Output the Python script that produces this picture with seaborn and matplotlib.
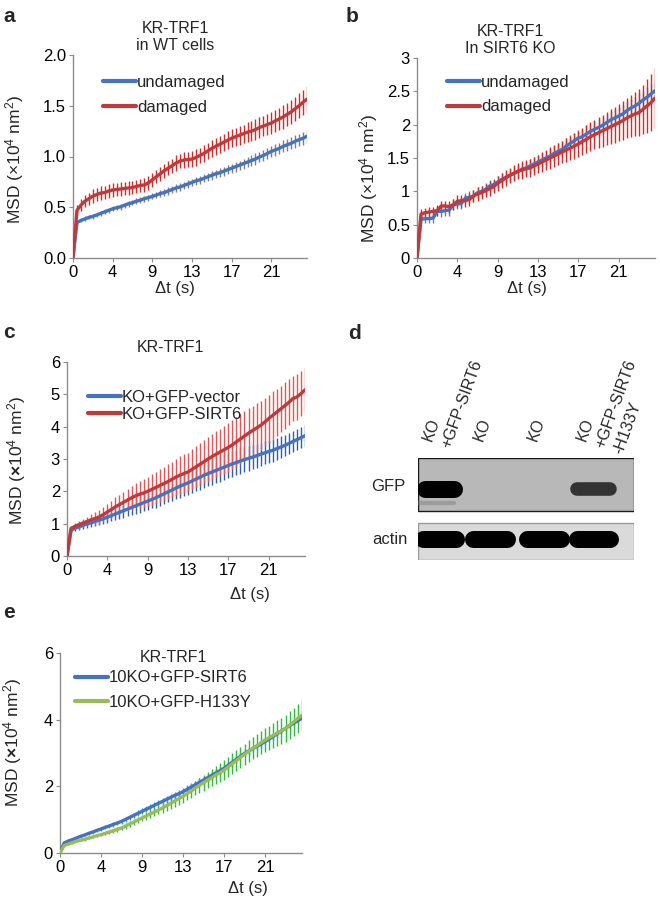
import numpy as np
import pandas as pd
import matplotlib
matplotlib.use("Agg")
import matplotlib.pyplot as plt
from matplotlib.patches import Rectangle
from matplotlib.lines import Line2D
import seaborn as sns

# ---------------- data ----------------
X_TICK_LABELS = ["0", "4", "9", "13", "17", "21"]

# panel a : KR-TRF1 in WT cells
a_undamaged = [0, 0.35, 0.37, 0.385, 0.40, 0.41, 0.425, 0.44, 0.455, 0.47,
               0.485, 0.495, 0.505, 0.52, 0.535, 0.545, 0.56, 0.57, 0.585, 0.595,
               0.607, 0.62, 0.635, 0.645, 0.66, 0.675, 0.69, 0.70, 0.715, 0.73,
               0.745, 0.76, 0.77, 0.785, 0.80, 0.815, 0.83, 0.84, 0.855, 0.87,
               0.885, 0.90, 0.915, 0.93, 0.945, 0.96, 0.975, 0.995, 1.01, 1.03,
               1.05, 1.065, 1.08, 1.10, 1.115, 1.13, 1.15, 1.165, 1.18, 1.20]
a_undamaged_err = [0, 0.02, 0.02, 0.025, 0.02, 0.025, 0.02, 0.025, 0.025, 0.025,
                   0.025, 0.025, 0.03, 0.025, 0.03, 0.025, 0.03, 0.03, 0.03, 0.03,
                   0.03, 0.03, 0.035, 0.03, 0.035, 0.035, 0.035, 0.035, 0.035, 0.04,
                   0.035, 0.04, 0.04, 0.04, 0.04, 0.045, 0.04, 0.045, 0.045, 0.045,
                   0.045, 0.05, 0.045, 0.05, 0.05, 0.05, 0.055, 0.05, 0.055, 0.055,
                   0.055, 0.06, 0.055, 0.06, 0.06, 0.06, 0.065, 0.06, 0.065, 0.065]
a_damaged = [0, 0.47, 0.52, 0.56, 0.585, 0.61, 0.625, 0.64, 0.645, 0.66,
             0.67, 0.675, 0.68, 0.685, 0.69, 0.695, 0.705, 0.715, 0.72, 0.74,
             0.77, 0.80, 0.83, 0.86, 0.885, 0.91, 0.935, 0.955, 0.965, 0.97,
             0.975, 0.99, 1.01, 1.03, 1.055, 1.08, 1.10, 1.12, 1.14, 1.16,
             1.18, 1.195, 1.21, 1.225, 1.24, 1.25, 1.265, 1.285, 1.30, 1.315,
             1.33, 1.35, 1.37, 1.39, 1.415, 1.44, 1.47, 1.50, 1.535, 1.565]
a_damaged_err = [0, 0.05, 0.06, 0.06, 0.06, 0.065, 0.06, 0.065, 0.06, 0.065,
                 0.065, 0.06, 0.065, 0.06, 0.065, 0.065, 0.06, 0.065, 0.065, 0.07,
                 0.07, 0.065, 0.07, 0.07, 0.07, 0.07, 0.075, 0.07, 0.075, 0.075,
                 0.075, 0.08, 0.075, 0.08, 0.08, 0.08, 0.085, 0.085, 0.085, 0.09,
                 0.09, 0.09, 0.095, 0.09, 0.095, 0.095, 0.10, 0.10, 0.10, 0.105,
                 0.105, 0.11, 0.11, 0.115, 0.115, 0.12, 0.12, 0.125, 0.125, 0.13]

# panel b : KR-TRF1 in SIRT6 KO
b_undamaged = [0, 0.58, 0.59, 0.59, 0.60, 0.70, 0.70, 0.71, 0.72, 0.80,
               0.81, 0.82, 0.90, 0.91, 0.93, 0.98, 1.00, 1.03, 1.08, 1.10,
               1.14, 1.18, 1.21, 1.24, 1.27, 1.30, 1.33, 1.35, 1.38, 1.41,
               1.44, 1.47, 1.50, 1.53, 1.57, 1.60, 1.63, 1.68, 1.72, 1.76,
               1.80, 1.82, 1.86, 1.90, 1.93, 1.96, 1.99, 2.03, 2.07, 2.10,
               2.13, 2.16, 2.21, 2.25, 2.28, 2.32, 2.37, 2.41, 2.46, 2.51]
b_undamaged_err = [0, 0.06, 0.07, 0.07, 0.08, 0.07, 0.08, 0.08, 0.09, 0.08,
                   0.08, 0.09, 0.08, 0.09, 0.09, 0.09, 0.08, 0.09, 0.09, 0.09,
                   0.09, 0.10, 0.09, 0.10, 0.10, 0.10, 0.10, 0.10, 0.10, 0.11,
                   0.10, 0.11, 0.11, 0.11, 0.11, 0.12, 0.12, 0.12, 0.12, 0.12,
                   0.12, 0.12, 0.13, 0.12, 0.13, 0.13, 0.13, 0.13, 0.13, 0.14,
                   0.13, 0.14, 0.14, 0.14, 0.14, 0.15, 0.14, 0.15, 0.15, 0.15]
b_damaged = [0, 0.66, 0.68, 0.69, 0.70, 0.71, 0.78, 0.78, 0.77, 0.80,
             0.85, 0.86, 0.86, 0.88, 0.93, 0.96, 0.98, 1.01, 1.04, 1.07,
             1.12, 1.16, 1.20, 1.24, 1.27, 1.30, 1.32, 1.34, 1.35, 1.38,
             1.41, 1.44, 1.47, 1.50, 1.53, 1.56, 1.59, 1.62, 1.65, 1.68,
             1.71, 1.75, 1.78, 1.82, 1.85, 1.88, 1.91, 1.94, 1.97, 2.00,
             2.03, 2.06, 2.10, 2.13, 2.16, 2.18, 2.23, 2.28, 2.33, 2.40]
b_damaged_err = [0, 0.07, 0.07, 0.08, 0.07, 0.08, 0.08, 0.08, 0.09, 0.08,
                 0.09, 0.09, 0.09, 0.10, 0.09, 0.10, 0.10, 0.10, 0.11, 0.10,
                 0.11, 0.11, 0.12, 0.11, 0.12, 0.12, 0.13, 0.13, 0.13, 0.14,
                 0.14, 0.15, 0.15, 0.16, 0.16, 0.17, 0.17, 0.18, 0.18, 0.19,
                 0.20, 0.20, 0.21, 0.22, 0.22, 0.23, 0.24, 0.25, 0.26, 0.27,
                 0.28, 0.29, 0.30, 0.32, 0.33, 0.35, 0.37, 0.40, 0.43, 0.45]

# panel c : KR-TRF1, KO + GFP constructs
c_vector = [0, 0.80, 0.86, 0.90, 0.95, 0.99, 1.03, 1.07, 1.11, 1.15,
            1.20, 1.25, 1.30, 1.35, 1.40, 1.45, 1.50, 1.55, 1.60, 1.65,
            1.70, 1.75, 1.80, 1.86, 1.92, 1.98, 2.04, 2.10, 2.16, 2.21,
            2.26, 2.32, 2.38, 2.44, 2.50, 2.55, 2.60, 2.65, 2.70, 2.75,
            2.80, 2.85, 2.89, 2.94, 2.98, 3.02, 3.06, 3.10, 3.15, 3.19,
            3.23, 3.27, 3.32, 3.37, 3.42, 3.48, 3.54, 3.60, 3.66, 3.72]
c_vector_err = [0, 0.08, 0.10, 0.10, 0.12, 0.12, 0.14, 0.14, 0.16, 0.16,
                0.18, 0.18, 0.20, 0.20, 0.22, 0.22, 0.24, 0.24, 0.26, 0.26,
                0.28, 0.28, 0.30, 0.30, 0.32, 0.32, 0.34, 0.34, 0.36, 0.36,
                0.37, 0.38, 0.38, 0.39, 0.39, 0.40, 0.40, 0.40, 0.41, 0.40,
                0.40, 0.40, 0.39, 0.39, 0.38, 0.38, 0.37, 0.37, 0.36, 0.36,
                0.35, 0.35, 0.34, 0.34, 0.33, 0.33, 0.33, 0.32, 0.32, 0.32]
c_sirt6 = [0, 0.85, 0.92, 0.97, 1.02, 1.07, 1.12, 1.16, 1.21, 1.28,
           1.36, 1.44, 1.52, 1.59, 1.66, 1.73, 1.80, 1.86, 1.91, 1.95,
           2.00, 2.06, 2.12, 2.18, 2.24, 2.30, 2.37, 2.44, 2.50, 2.55,
           2.60, 2.68, 2.76, 2.84, 2.92, 3.00, 3.08, 3.15, 3.22, 3.29,
           3.36, 3.44, 3.53, 3.62, 3.71, 3.80, 3.88, 3.96, 4.04, 4.14,
           4.25, 4.35, 4.45, 4.55, 4.65, 4.75, 4.87, 4.92, 5.02, 5.14]
c_sirt6_err = [0, 0.08, 0.10, 0.12, 0.13, 0.15, 0.17, 0.19, 0.21, 0.23,
               0.25, 0.27, 0.29, 0.31, 0.33, 0.35, 0.37, 0.39, 0.41, 0.43,
               0.45, 0.47, 0.49, 0.50, 0.52, 0.53, 0.55, 0.56, 0.58, 0.59,
               0.60, 0.62, 0.63, 0.65, 0.66, 0.68, 0.69, 0.71, 0.72, 0.74,
               0.75, 0.76, 0.77, 0.77, 0.78, 0.78, 0.77, 0.77, 0.76, 0.75,
               0.74, 0.74, 0.73, 0.72, 0.72, 0.71, 0.70, 0.70, 0.69, 0.68]

# panel e : KR-TRF1, 10KO + GFP constructs
e_sirt6 = [0, 0.30, 0.36, 0.40, 0.45, 0.50, 0.54, 0.59, 0.63, 0.68,
           0.72, 0.77, 0.81, 0.86, 0.90, 0.95, 1.01, 1.07, 1.13, 1.19,
           1.25, 1.31, 1.37, 1.43, 1.49, 1.55, 1.61, 1.67, 1.73, 1.78,
           1.84, 1.91, 1.98, 2.05, 2.12, 2.19, 2.26, 2.33, 2.40, 2.47,
           2.54, 2.63, 2.72, 2.81, 2.90, 2.99, 3.06, 3.13, 3.20, 3.27,
           3.34, 3.42, 3.50, 3.58, 3.66, 3.74, 3.82, 3.90, 3.97, 4.05]
e_sirt6_err = [0, 0.03, 0.03, 0.03, 0.04, 0.04, 0.04, 0.05, 0.05, 0.05,
               0.06, 0.06, 0.06, 0.07, 0.07, 0.07, 0.08, 0.08, 0.08, 0.09,
               0.09, 0.09, 0.10, 0.10, 0.10, 0.10, 0.11, 0.11, 0.11, 0.11,
               0.12, 0.12, 0.12, 0.12, 0.12, 0.13, 0.13, 0.13, 0.13, 0.13,
               0.13, 0.13, 0.13, 0.12, 0.12, 0.12, 0.12, 0.11, 0.11, 0.11,
               0.11, 0.10, 0.10, 0.10, 0.10, 0.10, 0.10, 0.10, 0.10, 0.10]
e_h133y = [0, 0.22, 0.27, 0.31, 0.35, 0.38, 0.41, 0.45, 0.48, 0.52,
           0.55, 0.59, 0.63, 0.67, 0.71, 0.75, 0.81, 0.87, 0.93, 0.99,
           1.05, 1.11, 1.17, 1.23, 1.29, 1.35, 1.42, 1.49, 1.56, 1.63,
           1.70, 1.78, 1.86, 1.95, 2.03, 2.11, 2.19, 2.26, 2.34, 2.41,
           2.49, 2.58, 2.68, 2.77, 2.87, 2.96, 3.05, 3.14, 3.22, 3.31,
           3.39, 3.46, 3.53, 3.60, 3.67, 3.74, 3.84, 3.94, 4.04, 4.14]
e_h133y_err = [0, 0.02, 0.02, 0.03, 0.03, 0.03, 0.04, 0.04, 0.04, 0.05,
               0.05, 0.05, 0.06, 0.06, 0.07, 0.07, 0.08, 0.08, 0.09, 0.09,
               0.10, 0.11, 0.11, 0.12, 0.13, 0.14, 0.15, 0.16, 0.17, 0.18,
               0.19, 0.20, 0.21, 0.22, 0.23, 0.24, 0.25, 0.26, 0.27, 0.28,
               0.29, 0.30, 0.31, 0.31, 0.32, 0.32, 0.33, 0.33, 0.34, 0.34,
               0.35, 0.36, 0.37, 0.38, 0.39, 0.40, 0.41, 0.42, 0.43, 0.44]

# panel d : western blot
blot_lanes = ["KO\n+GFP-SIRT6", "KO", "KO", "KO\n+GFP-SIRT6\n-H133Y"]
gfp_signal = [1.0, 0.0, 0.0, 0.72]
actin_signal = [1.0, 1.0, 1.0, 1.0]

# ---------------- style ----------------
sns.set_theme(style="white")
plt.rcParams["font.family"] = ["Liberation Sans", "DejaVu Sans"]
plt.rcParams["mathtext.fontset"] = "custom"
plt.rcParams["mathtext.rm"] = "Liberation Sans"
plt.rcParams["mathtext.it"] = "Liberation Sans:italic"
plt.rcParams["mathtext.bf"] = "Liberation Sans:bold"

BLUE = "#4472C4"
RED = "#C0393B"
GREEN = "#9BBB59"
FS = 12
FS_TITLE = 11.5
FS_YLAB = 12.5
FS_LANE = 11.5

W, H = 660, 900
fig = plt.figure(figsize=(W / 100, H / 100), dpi=100)
fig.patch.set_facecolor("white")


def box(l, t, r, b):
    return [l / W, 1 - b / H, (r - l) / W, (b - t) / H]


def ftext(px, py, s, **kw):
    kw.setdefault("fontsize", FS)
    return fig.text(px / W, 1 - py / H, s, **kw)


def msd_panel(rect, series, ymax, yticks, yticklabels, legend_anchor,
              handlelength, labelspacing):
    ax = fig.add_axes(box(*rect))
    frames = []
    for name, y, e, lc, ec in series:
        idx = np.arange(len(y))
        frames.append(pd.DataFrame({"idx": idx, "msd": y, "series": name}))
        ax.errorbar(idx, y, yerr=e, fmt="none", ecolor=ec, elinewidth=1.0,
                    capsize=0, zorder=1)
    df = pd.concat(frames, ignore_index=True)
    names = [s[0] for s in series]
    pal = {s[0]: s[3] for s in series}
    sns.lineplot(data=df, x="idx", y="msd", hue="series", hue_order=names,
                 palette=pal, linewidth=2.4, legend=False, ax=ax, zorder=3)
    n = len(series[0][1])
    ax.set_xlim(0, n - 1)
    ax.set_ylim(0, ymax)
    ax.set_xticks(np.arange(len(X_TICK_LABELS)) * 10)
    ax.set_xticklabels(X_TICK_LABELS)
    ax.set_yticks(yticks)
    ax.set_yticklabels(yticklabels)
    ax.set_xlabel("")
    ax.set_ylabel("")
    for sp in ["top", "right"]:
        ax.spines[sp].set_visible(False)
    for sp in ["left", "bottom"]:
        ax.spines[sp].set_color("#8c8c8c")
        ax.spines[sp].set_linewidth(1.0)
    ax.tick_params(axis="both", direction="out", length=3, width=0.8,
                   color="#8c8c8c", labelsize=FS, pad=2,
                   bottom=True, left=True, labelcolor="black")
    handles = [Line2D([], [], color=s[3], lw=3) for s in series]
    ax.legend(handles, names, loc="center left", bbox_to_anchor=legend_anchor,
              frameon=False, fontsize=FS, handlelength=handlelength,
              handletextpad=0.05, labelspacing=labelspacing, borderpad=0,
              borderaxespad=0)
    return ax


ylab_plain = r"MSD (×10$^{4}$ nm$^{2}$)"
ylab_bold = r"MSD ($\mathbf{×}$10$^{4}$ nm$^{2}$)"

# panel a
msd_panel((73, 55, 307, 258),
          [("undamaged", a_undamaged, a_undamaged_err, BLUE, "#7f7f7f"),
           ("damaged", a_damaged, a_damaged_err, RED, "#D42A2A")],
          2.0, [0, 0.5, 1.0, 1.5, 2.0], ["0.0", "0.5", "1.0", "1.5", "2.0"],
          (0.128, 0.805), 2.0, 0.6)
ftext(175, 53, "KR-TRF1\nin WT cells", ha="center", va="bottom",
      linespacing=1.15, fontsize=FS_TITLE)
ftext(15, 159, ylab_plain, rotation=90, ha="center", va="center", fontsize=FS_YLAB)
ftext(175, 288, "Δt (s)", ha="center", va="center")
ftext(3, 22, "a", fontsize=15, fontweight="bold", va="baseline")

# panel b
msd_panel((417, 58, 655, 258),
          [("undamaged", b_undamaged, b_undamaged_err, BLUE, "#7f7f7f"),
           ("damaged", b_damaged, b_damaged_err, RED, "#D42A2A")],
          3.0, [0, 0.5, 1, 1.5, 2, 2.5, 3], ["0", "0.5", "1", "1.5", "2", "2.5", "3"],
          (0.126, 0.8175), 2.0, 0.6)
ftext(510, 56, "KR-TRF1\nIn SIRT6 KO", ha="center", va="bottom",
      linespacing=1.15, fontsize=FS_TITLE)
ftext(369, 178, ylab_plain, rotation=90, ha="center", va="center", fontsize=FS_YLAB)
ftext(527, 288, "Δt (s)", ha="center", va="center")
ftext(346, 22, "b", fontsize=15, fontweight="bold", va="baseline")

# panel c
msd_panel((67, 362, 305, 556),
          [("KO+GFP-vector", c_vector, c_vector_err, BLUE, "#2F5FB3"),
           ("KO+GFP-SIRT6", c_sirt6, c_sirt6_err, RED, "#E05555")],
          6, [0, 1, 2, 3, 4, 5, 6], ["0", "1", "2", "3", "4", "5", "6"],
          (0.088, 0.773), 2.0, 0.12)
ftext(170, 348, "KR-TRF1", ha="center", va="center", fontsize=FS_TITLE)
ftext(17, 460, ylab_bold, rotation=90, ha="center", va="center", fontsize=FS_YLAB)
ftext(250, 594, "Δt (s)", ha="center", va="center")
ftext(3, 338, "c", fontsize=15, fontweight="bold", va="baseline")

# panel e
msd_panel((60, 653, 302, 853),
          [("10KO+GFP-SIRT6", e_sirt6, e_sirt6_err, BLUE, "#22A8F0"),
           ("10KO+GFP-H133Y", e_h133y, e_h133y_err, GREEN, "#2DBE3C")],
          6, [0, 2, 4, 6], ["0", "2", "4", "6"],
          (0.062, 0.815), 1.95, 0.55)
ftext(173, 657, "KR-TRF1", ha="center", va="center", fontsize=FS_TITLE)
ftext(13, 742, ylab_bold, rotation=90, ha="center", va="center", fontsize=FS_YLAB)
ftext(248, 888, "Δt (s)", ha="center", va="center")
ftext(3, 618, "e", fontsize=15, fontweight="bold", va="baseline")

# panel d : western blot drawn from lane signals
BLOT_L, BLOT_T, BLOT_R, BLOT_B = 418, 458, 634, 560
axd = fig.add_axes(box(BLOT_L, BLOT_T, BLOT_R, BLOT_B))
axd.set_xlim(0, 4)
axd.set_ylim(102, 0)
axd.axis("off")
gfp_box = Rectangle((0, 0), 4, 53, facecolor="#b8b8b8", edgecolor="#1a1a1a", lw=1.0)
act_box = Rectangle((0, 65), 4, 37, facecolor="#dadada", edgecolor="#9a9a9a", lw=1.0)
axd.add_patch(gfp_box)
axd.add_patch(act_box)
lane_x = [0.40, 1.33, 2.34, 3.25]
px_per_lane = (BLOT_R - BLOT_L) / 4.0
band_h = 17.0
cap = (band_h / 2) / px_per_lane
for i, s in enumerate(gfp_signal):
    if s > 0:
        half = 0.42 if s >= 1 else 0.46
        lw = band_h * 0.72 * (1.0 if s >= 1 else 0.8)
        ln, = axd.plot([lane_x[i] - half + cap, lane_x[i] + half - cap], [30.5, 30.5],
                       color="black", alpha=s, lw=lw, solid_capstyle="round")
        ln.set_clip_path(gfp_box)
        if s >= 1:
            faint, = axd.plot([lane_x[i] - half, lane_x[i] + half - cap], [45, 45],
                              color="#7a7a7a", alpha=0.45, lw=3, solid_capstyle="round")
            faint.set_clip_path(gfp_box)
for i, s in enumerate(actin_signal):
    half = 0.47
    ln, = axd.plot([lane_x[i] - half + cap, lane_x[i] + half - cap], [80.5, 80.5],
                   color="black", alpha=s, lw=band_h * 0.72, solid_capstyle="round")
    ln.set_clip_path(act_box)

# lane labels: one rotated text per line, stacked perpendicular to the text
ang = np.deg2rad(70)
LINE_STEP_PX = 19.5
for i, lab in enumerate(blot_lanes):
    base_x = BLOT_L + (lane_x[i] - 0.14) * px_per_lane
    base_y = BLOT_T - 16
    for j, line in enumerate(lab.split("\n")):
        px = base_x + j * LINE_STEP_PX * np.sin(ang)
        py = base_y + j * LINE_STEP_PX * np.cos(ang)
        ftext(px, py, line, rotation=70, rotation_mode="anchor",
              ha="left", va="baseline", fontsize=FS_LANE)

ftext(388, 486, "GFP", ha="center", va="center")
ftext(390, 540, "actin", ha="center", va="center")
ftext(348, 339, "d", fontsize=15, fontweight="bold", va="baseline")

fig.savefig("out.png", dpi=100, facecolor="white")
